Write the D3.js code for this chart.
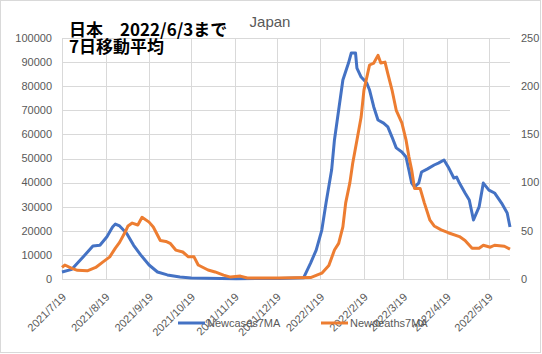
<!DOCTYPE html>
<html>
<head>
<meta charset="utf-8">
<script src="https://cdn.jsdelivr.net/npm/d3@7"></script>
<style>
  body { margin: 0; background: #fff; }
  svg { display: block; font-family: "Liberation Sans", Arial, sans-serif; }
</style>
</head>
<body>
<div id="chart"></div>
<script>
// New cases, 7-day moving average (left axis)
const caseDates = [
  '2021-07-19','2021-07-26','2021-08-03','2021-08-10','2021-08-15','2021-08-20','2021-08-24','2021-08-26',
  '2021-08-29','2021-09-03','2021-09-08','2021-09-13','2021-09-19','2021-09-25','2021-10-02','2021-10-11',
  '2021-10-19','2021-11-20','2021-12-21','2022-01-07','2022-01-12','2022-01-16','2022-01-20','2022-01-23',
  '2022-01-27','2022-01-29','2022-02-01','2022-02-04','2022-02-08','2022-02-10','2022-02-13','2022-02-14',
  '2022-02-17','2022-02-21','2022-02-23','2022-02-26','2022-03-01','2022-03-05','2022-03-08','2022-03-11',
  '2022-03-14','2022-03-18','2022-03-21','2022-03-23','2022-03-25','2022-03-27','2022-03-30','2022-04-01',
  '2022-04-05','2022-04-10','2022-04-13','2022-04-17','2022-04-20','2022-04-24','2022-04-26','2022-04-28',
  '2022-05-02','2022-05-05','2022-05-08','2022-05-12','2022-05-15','2022-05-19','2022-05-23','2022-05-28',
  '2022-06-01','2022-06-03'
];
const caseValues = [
  2900, 4000, 9100, 13700, 14000, 17500, 21600, 22800,
  22000, 19000, 14000, 10000, 5800, 2900, 1700, 800,
  400, 150, 200, 500, 6600, 12000, 20300, 31500,
  45300, 57700, 70100, 82600, 89600, 93800, 93800, 87500,
  83800, 81300, 78400, 71400, 66000, 64700, 63100, 58900,
  54400, 52700, 50600, 45300, 39800, 38200, 39800, 44400,
  45600, 47300, 48100, 49400, 46500, 41900, 42300, 39800,
  35700, 32800, 24500, 29900, 39800, 36900, 35700, 31500,
  27400, 21600
];

// New deaths, 7-day moving average (right axis)
const deathDates = [
  '2021-07-19','2021-07-21','2021-07-26','2021-07-30','2021-08-06','2021-08-12','2021-08-17','2021-08-22',
  '2021-08-26','2021-08-29','2021-09-02','2021-09-04','2021-09-07','2021-09-11','2021-09-14','2021-09-19',
  '2021-09-22','2021-09-27','2021-10-01','2021-10-04','2021-10-08','2021-10-13','2021-10-17','2021-10-21',
  '2021-10-24','2021-10-31','2021-11-05','2021-11-11','2021-11-16','2021-11-23','2021-11-28','2021-12-20',
  '2022-01-12','2022-01-20','2022-01-25','2022-01-29','2022-02-01','2022-02-04','2022-02-06','2022-02-09',
  '2022-02-11','2022-02-14','2022-02-17','2022-02-19','2022-02-23','2022-02-26','2022-03-01','2022-03-03',
  '2022-03-06','2022-03-08','2022-03-11','2022-03-14','2022-03-18','2022-03-21','2022-03-23','2022-03-25',
  '2022-03-27','2022-03-31','2022-04-03','2022-04-07','2022-04-10','2022-04-15','2022-04-20','2022-04-28',
  '2022-05-02','2022-05-07','2022-05-12','2022-05-15','2022-05-20','2022-05-23','2022-05-30','2022-06-03'
];
const deathValues = [
  12, 14.5, 11, 9, 8.5, 12, 17.5, 23,
  32, 38, 48.7, 55, 58, 56, 64, 59,
  54, 40, 39, 37, 30, 28, 23, 23,
  14.5, 9.3, 7.3, 4, 2, 3, 1, 1,
  1.5, 6, 14, 30, 37, 54, 79, 100,
  120, 144, 168, 196, 222, 224, 232, 224,
  225, 213, 196, 175, 162, 144, 127, 113,
  94, 94, 79, 61, 55, 51, 48, 44,
  40, 32, 32, 35, 33, 35, 34, 31
];

const xTickDates = [
  '2021-07-19','2021-08-19','2021-09-19','2021-10-19','2021-11-19','2021-12-19',
  '2022-01-19','2022-02-19','2022-03-19','2022-04-19','2022-05-19'
];
const leftTicks  = [0, 10000, 20000, 30000, 40000, 50000, 60000, 70000, 80000, 90000, 100000];
const rightTicks = [0, 50, 100, 150, 200, 250];

const W = 542, H = 354;
const plot = { left: 62, right: 510, top: 38, bottom: 279 };
const BLUE = '#4472C4', ORANGE = '#ED7D31', GRID = '#d9d9d9', TXT = '#595959';

const parse = d3.timeParse('%Y-%m-%d');
const cases  = caseDates.map((d, i) => ({ date: parse(d), v: caseValues[i] }));
const deaths = deathDates.map((d, i) => ({ date: parse(d), v: deathValues[i] }));

const x  = d3.scaleTime().domain([parse('2021-07-19'), parse('2022-06-03')]).range([plot.left, plot.right]);
const yL = d3.scaleLinear().domain([0, 100000]).range([plot.bottom, plot.top]);
const yR = d3.scaleLinear().domain([0, 250]).range([plot.bottom, plot.top]);

const svg = d3.select('#chart').append('svg').attr('width', W).attr('height', H);

svg.append('rect')
  .attr('x', 0.5).attr('y', 0.5).attr('width', W - 2).attr('height', H - 2)
  .attr('fill', '#fff').attr('stroke', GRID);

// horizontal gridlines
svg.append('g').selectAll('line').data(leftTicks).join('line')
  .attr('x1', plot.left).attr('x2', plot.right)
  .attr('y1', d => Math.round(yL(d)) + 0.5).attr('y2', d => Math.round(yL(d)) + 0.5)
  .attr('stroke', GRID);

// vertical gridlines
const tickDates = xTickDates.map(parse);
svg.append('g').selectAll('line').data(tickDates).join('line')
  .attr('x1', d => Math.round(x(d)) + 0.5).attr('x2', d => Math.round(x(d)) + 0.5)
  .attr('y1', plot.top).attr('y2', plot.bottom)
  .attr('stroke', GRID);

// left axis labels
svg.append('g').selectAll('text').data(leftTicks).join('text')
  .attr('x', 52).attr('y', d => yL(d)).attr('dy', '0.35em')
  .attr('text-anchor', 'end').attr('font-size', 11).attr('fill', TXT)
  .text(d => d);

// right axis labels
svg.append('g').selectAll('text').data(rightTicks).join('text')
  .attr('x', 521).attr('y', d => yR(d)).attr('dy', '0.35em')
  .attr('text-anchor', 'start').attr('font-size', 11).attr('fill', TXT)
  .text(d => d);

// x tick labels, rotated
const fmt = d => `${d.getFullYear()}/${d.getMonth() + 1}/${d.getDate()}`;
svg.append('g').selectAll('text').data(tickDates).join('text')
  .attr('transform', d => `translate(${x(d) + 2},${plot.bottom + 16}) rotate(-45)`)
  .attr('text-anchor', 'end').attr('dy', '0.35em')
  .attr('font-size', 11).attr('fill', TXT)
  .text(fmt);

// series
const lineL = d3.line().x(d => x(d.date)).y(d => yL(d.v));
const lineR = d3.line().x(d => x(d.date)).y(d => yR(d.v));

svg.append('path').datum(cases)
  .attr('d', lineL).attr('fill', 'none')
  .attr('stroke', BLUE).attr('stroke-width', 3).attr('stroke-linejoin', 'round');

svg.append('path').datum(deaths)
  .attr('d', lineR).attr('fill', 'none')
  .attr('stroke', ORANGE).attr('stroke-width', 3).attr('stroke-linejoin', 'round');

// title
svg.append('text')
  .attr('x', 270).attr('y', 27).attr('text-anchor', 'middle')
  .attr('font-size', 15).attr('fill', TXT)
  .text('Japan');

// annotation
const note = svg.append('text')
  .attr('font-family', '"Noto Sans CJK JP", sans-serif')
  .attr('font-weight', 'bold').attr('font-size', 17).attr('fill', '#000');
note.append('tspan').attr('x', 69).attr('y', 36).text('日本　2022/6/3まで');
note.append('tspan').attr('x', 69).attr('y', 53).text('7日移動平均');

// legend
const legend = [
  { label: 'Newcases7MA', color: BLUE, x: 178 },
  { label: 'Newdeaths7MA', color: ORANGE, x: 321 }
];
const lg = svg.append('g').selectAll('g').data(legend).join('g')
  .attr('transform', d => `translate(${d.x},323)`);
lg.append('line')
  .attr('x1', 0).attr('x2', 27).attr('y1', 0).attr('y2', 0)
  .attr('stroke', d => d.color).attr('stroke-width', 3);
lg.append('text')
  .attr('x', 29).attr('dy', '0.35em')
  .attr('font-size', 11).attr('fill', TXT)
  .text(d => d.label);
</script>
</body>
</html>
